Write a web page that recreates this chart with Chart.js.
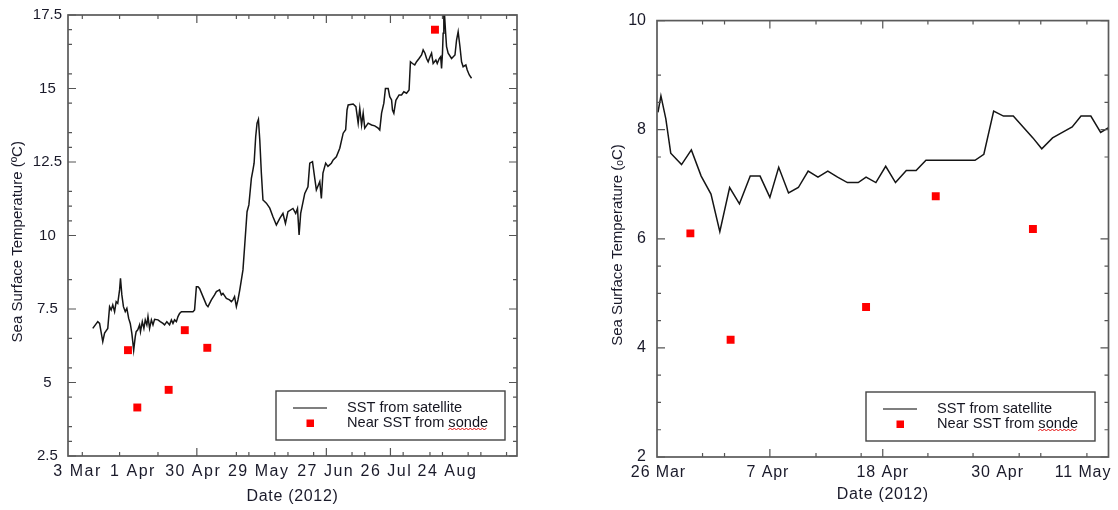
<!DOCTYPE html>
<html><head><meta charset="utf-8">
<script src="https://cdn.jsdelivr.net/npm/chart.js@4.4.1/dist/chart.umd.min.js"></script>
<style>
html,body{margin:0;padding:0;background:#fff;width:1118px;height:510px;overflow:hidden}
canvas{position:absolute;top:0}
#c1{left:0}
#c2{left:560px}
</style></head><body>
<canvas id="c1" width="560" height="510" data-tls="1.5" data-ttl="0.7"></canvas>
<canvas id="c2" width="558" height="510" data-tls="0.9" data-ttl="0.7"></canvas>
<script>
// ---- data (x = day of year 2012) ----
const leftSatDays = [73.9,76.1,76.9,78.3,79.1,80.5,81.3,82.0,82.7,83.5,
84.2,84.9,85.7,86.1,86.7,87.4,88.2,88.9,89.7,90.4,
91.1,91.5,91.9,92.6,93.0,93.7,94.5,94.9,95.7,96.4,
97.0,97.7,98.2,98.9,99.7,100.4,101.1,102.6,103.6,104.8,
105.5,106.5,107.7,108.5,109.2,109.9,110.7,111.4,112.1,112.9,
118.0,118.7,119.5,120.2,120.9,122.4,123.9,124.6,126.1,127.5,
128.3,129.7,130.5,131.2,132.7,134.1,134.9,135.6,136.3,137.1,
137.8,138.6,139.3,140.0,140.8,141.8,142.6,143.7,144.4,144.9,
145.6,146.2,146.8,147.4,148.1,148.8,150.3,151.8,153.2,154.7,
156.2,157.6,158.7,159.8,162.0,163.2,164.0,164.7,165.4,167.2,
168.6,169.4,170.6,171.6,172.3,173.8,174.5,175.2,176.4,177.4,
178.9,179.7,181.1,182.6,184.1,185.2,185.8,186.3,188.5,189.7,
190.7,191.4,192.2,192.9,193.6,195.1,196.6,198.0,199.5,200.2,
201.0,202.0,202.7,203.9,204.6,205.4,205.8,206.4,207.3,208.7,
209.8,210.8,212.0,213.1,213.7,214.6,215.6,216.4,217.5,218.6,
219.3,220.1,220.8,221.5,222.3,223.0,223.7,224.9,225.5,226.4,
227.0,227.4,227.8,228.1,228.4,229.2,229.6,230.3,231.8,233.3,
234.0,234.7,235.5,236.2,236.9,238.1,238.7,239.6,240.6];
const leftSatTemps = [6.84,7.07,7.01,6.39,6.68,6.84,7.58,7.47,7.64,7.41,
7.75,7.69,8.15,8.54,7.98,7.58,7.41,7.52,7.18,7.01,
6.67,6.39,6.10,6.56,6.73,6.79,6.96,6.73,7.07,6.84,
7.13,6.96,7.24,6.84,7.13,6.96,7.15,7.13,7.07,7.01,
6.96,7.07,6.96,7.13,7.01,7.13,7.07,7.24,7.35,7.41,
7.41,7.47,8.26,8.26,8.20,7.92,7.64,7.58,7.81,7.98,
8.09,8.15,7.98,8.03,7.86,7.81,7.75,7.81,7.92,7.58,
7.81,8.15,8.49,8.83,9.70,10.81,11.04,11.94,12.23,12.46,
13.36,13.82,13.95,13.25,12.12,11.21,11.10,10.93,10.64,10.36,
10.58,10.75,10.41,10.81,10.92,10.75,10.92,10.02,10.75,11.43,
11.66,12.46,12.51,11.94,11.55,11.83,11.26,12.12,12.46,12.35,
12.46,12.57,12.68,12.97,13.48,13.60,14.27,14.44,14.47,14.38,
13.82,14.33,13.76,14.16,13.65,13.82,13.76,13.73,13.65,13.59,
14.16,14.50,15.00,15.00,14.72,14.61,14.27,14.16,14.60,14.78,
14.78,14.89,14.84,14.95,15.91,15.85,15.80,15.91,16.02,16.14,
16.31,16.20,16.02,15.91,16.08,16.20,15.85,15.97,15.85,16.02,
16.08,15.68,16.20,16.88,17.90,16.88,16.42,16.20,16.02,16.14,
16.65,16.93,16.42,15.91,15.74,15.80,15.63,15.46,15.35];

const rightSatDays = [86.1,86.4,86.9,87.4,88.5,89.5,90.5,91.5,92.4,93.4,
94.4,95.5,96.5,97.5,98.4,99.4,100.4,101.4,102.4,103.4,
104.4,105.4,106.5,107.3,108.3,109.3,110.3,111.4,112.4,113.4,
114.4,115.4,116.4,117.4,118.4,119.3,120.3,121.3,122.3,123.3,
124.3,125.2,126.3,127.3,128.3,129.2,130.2,131.2,132.1];
const rightSatTemps = [8.32,8.62,8.20,7.57,7.36,7.63,7.15,6.82,6.13,6.94,
6.64,7.15,7.15,6.76,7.31,6.84,6.94,7.24,7.13,7.24,
7.13,7.03,7.03,7.13,7.03,7.33,7.03,7.25,7.25,7.44,
7.44,7.44,7.44,7.44,7.44,7.55,8.34,8.25,8.25,8.05,
7.85,7.65,7.85,7.95,8.05,8.25,8.25,7.95,8.05];

const sondeDays = [89.4, 93.5, 107.3, 114.4, 124.3, 224.5];
const sondeTemps = [6.1, 4.15, 4.75, 6.78, 6.18, 17.0];

const seriesLabels = ['SST from satellite', 'Near SST from sonde'];

// ---- axes / tick labels ----
const leftXTickDays = [67.2, 91.6, 118.1, 146.9, 176.4, 203.1, 230.0];
const leftXTickLabels = ['3 Mar','1 Apr','30 Apr','29 May','27 Jun','26 Jul','24 Aug'];
const leftXMajor = [119.7, 176.7, 204.9];
const leftXMinor = [69.3, 85.7, 102.6, 137.1, 142.6, 154.0, 159.8, 171.1, 188.0, 193.6, 210.5, 222.3, 227.8, 239.1, 244.7, 256.0];
const leftYTicks = [2.5, 5, 7.5, 10, 12.5, 15, 17.5];
const leftYTickLabels = ['2.5','5','7.5','10','12.5','15','17.5'];
const leftYMinor = [3, 3.5, 4.5, 5.5, 6.5, 8.5, 10.5, 11, 11.5, 13, 13.5, 14.5, 15.5, 16.5, 17];

const rightXTickDays = [86.15, 97.3, 109.0, 120.7, 129.4];
const rightXTickLabels = ['26 Mar','7 Apr','18 Apr','30 Apr','11 May'];
const rightXMajor = [97.5, 109];
const rightXMinor = [90.64, 92.88, 102.2, 106.8, 113.6, 118.2, 122.9, 125.1, 129.8];
const rightYTicks = [2, 4, 6, 8, 10];
const rightYTickLabels = ['2','4','6','8','10'];
const rightYMinor = [2.5, 3, 3.5, 4.5, 5, 5.5, 7.5, 8.5, 9];

// ---- x scale with letter-spaced text ----
class SpacedLinearScale extends Chart.LinearScale {
  drawLabels(chartArea) {
    const ctx = this.ctx; ctx.save();
    ctx.letterSpacing = (this.chart.canvas.dataset.tls || '0') + 'px';
    super.drawLabels(chartArea); ctx.restore();
  }
  drawTitle() {
    const ctx = this.ctx; ctx.save();
    ctx.letterSpacing = (this.chart.canvas.dataset.ttl || '0') + 'px';
    super.drawTitle(); ctx.restore();
  }
}
SpacedLinearScale.id = 'spacedLinear';
SpacedLinearScale.defaults = {};
Chart.register(SpacedLinearScale);

const FONT = '"Liberation Sans", Arial, sans-serif';
const TXT = '#1a1a2a';

const boxTicksPlugin = {
  id: 'boxTicks',
  afterDatasetsDraw(chart, args, o) {
    const {ctx, chartArea: {left, right, top, bottom}, scales: {x, y}} = chart;
    ctx.save();
    ctx.strokeStyle = '#555'; ctx.lineWidth = 1.2;
    ctx.beginPath();
    const mark = (vals, len, horiz) => vals.forEach(v => {
      if (horiz) {
        const p = x.getPixelForValue(v);
        ctx.moveTo(p, bottom); ctx.lineTo(p, bottom - len);
        ctx.moveTo(p, top); ctx.lineTo(p, top + len);
      } else {
        const p = y.getPixelForValue(v);
        ctx.moveTo(left, p); ctx.lineTo(left + len, p);
        ctx.moveTo(right, p); ctx.lineTo(right - len, p);
      }
    });
    mark(o.xMajor, 8, true); mark(o.xMinor, 4, true);
    mark(o.yMajor, 8, false); mark(o.yMinor, 4, false);
    ctx.stroke();
    ctx.lineWidth = 1.7; ctx.strokeStyle = '#5a5a5a';
    ctx.strokeRect(left, top, right - left, bottom - top);
    ctx.restore();
  }
};

const boxLegendPlugin = {
  id: 'boxLegend',
  afterDraw(chart, args, o) {
    const {ctx, chartArea} = chart;
    const x0 = chartArea.right - o.right - o.width;
    const y0 = chartArea.bottom - o.bottom - o.height;
    ctx.save();
    ctx.fillStyle = '#fff'; ctx.fillRect(x0, y0, o.width, o.height);
    ctx.strokeStyle = '#444'; ctx.lineWidth = 1.4;
    ctx.strokeRect(x0, y0, o.width, o.height);
    ctx.font = '14.6px ' + FONT; ctx.textBaseline = 'middle'; ctx.textAlign = 'left';
    chart.data.datasets.forEach((ds, i) => {
      const cy = y0 + 17 + i * 15;
      if (ds.showLine) {
        ctx.strokeStyle = '#555'; ctx.lineWidth = 1.6;
        ctx.beginPath(); ctx.moveTo(x0 + 17, cy); ctx.lineTo(x0 + 51, cy); ctx.stroke();
      } else {
        ctx.fillStyle = ds.pointBackgroundColor;
        ctx.fillRect(x0 + 30.5, cy - 3.5, 7.5, 7.5);
      }
      ctx.fillStyle = '#151520';
      ctx.fillText(ds.label, x0 + 71, cy);
      if (i === 1) {
        const cut = ds.label.lastIndexOf(' ') + 1;
        const sx = x0 + 71 + ctx.measureText(ds.label.slice(0, cut)).width;
        const w = ctx.measureText(ds.label.slice(cut)).width;
        ctx.strokeStyle = '#e41010'; ctx.lineWidth = 1;
        ctx.beginPath();
        for (let k = 0, xx = sx; xx <= sx + w; k++, xx += 2) {
          const yy = cy + 6 + (k % 2 ? -1 : 1);
          if (k) ctx.lineTo(xx, yy); else ctx.moveTo(xx, yy);
        }
        ctx.stroke();
      }
    });
    ctx.restore();
  }
};

function makeChart(id, c) {
  return new Chart(document.getElementById(id), {
    type: 'scatter',
    data: {
      datasets: [
        { label: seriesLabels[0], data: c.days.map((d, i) => ({x: d, y: c.temps[i]})),
          showLine: true, borderColor: '#151515', borderWidth: 1.5, pointRadius: 0,
          pointHoverRadius: 0, tension: 0 },
        { label: seriesLabels[1], data: sondeDays.map((d, i) => ({x: d, y: sondeTemps[i]})),
          showLine: false, pointStyle: 'rect', pointRadius: 5.6, pointHoverRadius: 5.6,
          pointBackgroundColor: '#ff0000', backgroundColor: '#ff0000', borderColor: '#ff0000', pointBorderWidth: 0 }
      ]
    },
    options: {
      responsive: false, animation: false, events: [],
      layout: { padding: c.padding },
      plugins: {
        legend: { display: false }, tooltip: { enabled: false },
        boxLegend: c.legend,
        boxTicks: { xMajor: c.xMajor, xMinor: c.xMinor, yMajor: c.yTicks, yMinor: c.yMinor }
      },
      scales: {
        x: {
          type: 'spacedLinear', min: c.xMin, max: c.xMax, bounds: 'data',
          grid: { display: false, drawTicks: false }, border: { display: false },
          afterBuildTicks: s => { s.ticks = c.xTickDays.map(v => ({value: v})); },
          afterFit: s => { s.height = c.xHeight; },
          ticks: { autoSkip: false, maxRotation: 0, minRotation: 0, padding: c.xPad, color: TXT,
                   font: { family: FONT, size: 16 }, callback: (v, i) => c.xTickLabels[i] },
          title: { display: true, text: 'Date (2012)', color: TXT, font: { family: FONT, size: 16 },
                   padding: { top: 0, bottom: c.xTitlePad } }
        },
        y: {
          type: 'linear', min: c.yMin, max: c.yMax, bounds: 'data',
          grid: { display: false, drawTicks: false }, border: { display: false },
          afterBuildTicks: s => { s.ticks = c.yTicks.map(v => ({value: v})); },
          afterFit: s => { s.width = c.yWidth; },
          ticks: { crossAlign: c.yCross, padding: c.yPad, color: TXT,
                   font: { family: FONT, size: c.yFont }, callback: (v, i) => c.yTickLabels[i] },
          title: { display: true, text: c.yTitle, color: TXT, font: { family: FONT, size: 15 },
                   padding: { top: c.yTitlePad, bottom: 0 } }
        }
      }
    },
    plugins: [boxTicksPlugin, boxLegendPlugin]
  });
}

makeChart('c1', {
  days: leftSatDays, temps: leftSatTemps,
  xMin: 63, xMax: 260.6, yMin: 2.5, yMax: 17.5,
  xTickDays: leftXTickDays, xTickLabels: leftXTickLabels, xMajor: leftXMajor, xMinor: leftXMinor,
  yTicks: leftYTicks, yTickLabels: leftYTickLabels, yMinor: leftYMinor,
  padding: { left: 0, top: 15, right: 43, bottom: 0 },
  xHeight: 54, yWidth: 68, yCross: 'center', yPad: 6, yFont: 15, xPad: 6, xTitlePad: 3.5,
  yTitle: 'Sea Surface Temperature (ºC)   ', yTitlePad: 8.5,
  legend: { right: 12, bottom: 16, width: 229, height: 49 }
});

makeChart('c2', {
  days: rightSatDays, temps: rightSatTemps,
  xMin: 86, xMax: 132, yMin: 2, yMax: 10,
  xTickDays: rightXTickDays, xTickLabels: rightXTickLabels, xMajor: rightXMajor, xMinor: rightXMinor,
  yTicks: rightYTicks, yTickLabels: rightYTickLabels, yMinor: rightYMinor,
  padding: { left: 0, top: 14, right: 9.5, bottom: 0 },
  xHeight: 53, yWidth: 97, yCross: 'near', yPad: 11, yFont: 16, xPad: 5.5, xTitlePad: 5.5,
  yTitle: 'Sea Surface Temperature (ₒC)   ', yTitlePad: 48.5,
  legend: { right: 13.5, bottom: 16, width: 229, height: 49 }
});
</script>
</body></html>
